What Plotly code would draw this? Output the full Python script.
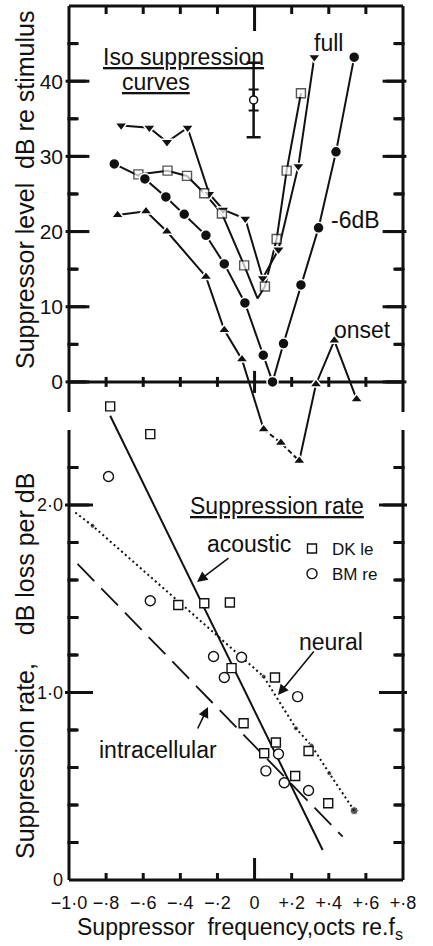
import plotly.graph_objects as go

# ---------------- data ----------------
# Top panel: iso-suppression curves; x = suppressor frequency (octaves re fs), y = dB re stimulus
full_x = [-0.719, -0.567, -0.472, -0.361, -0.244, -0.169, -0.050, 0.044, 0.129, 0.236, 0.322]
full_db = [34.1, 33.8, 31.9, 33.8, 25.0, 22.9, 21.7, 13.8, 17.6, 28.7, 43.2]

sq_x = [-0.626, -0.469, -0.364, -0.271, -0.176, -0.056, 0.016, 0.056, 0.119, 0.173, 0.250]
sq_db = [27.6, 28.1, 27.4, 25.1, 22.4, 15.5, 11.1, 12.7, 19.0, 28.1, 38.4]
sq_marked = [1, 1, 1, 1, 1, 1, 0, 1, 1, 1, 1]

m6_x = [-0.756, -0.591, -0.478, -0.379, -0.262, -0.163, -0.052, 0.047, 0.097, 0.156, 0.250, 0.345, 0.439, 0.537]
m6_db = [29.0, 27.0, 24.6, 22.3, 19.5, 15.7, 10.5, 3.55, 0.0, 5.1, 12.9, 20.5, 30.6, 43.2]

onset_x = [-0.738, -0.585, -0.472, -0.262, -0.163, -0.068, 0.049, 0.142, 0.241, 0.331, 0.430, 0.550]
onset_db = [22.2, 22.7, 20.0, 14.0, 6.9, 3.0, -6.3, -8.1, -10.5, -0.3, 5.5, -2.3]
onset_dashed = (6, 8)   # indices bounding the dashed stretch

err_x = [-0.005]
err_mean = [37.5]
err_outer = [4.95]
err_inner = [1.4]

# Bottom panel: suppression rate (dB loss per dB)
dk_x = [-0.778, -0.562, -0.411, -0.271, -0.133, -0.124, 0.110, -0.059, 0.115, 0.052, 0.291, 0.219, 0.397]
dk_rate = [2.526, 2.378, 1.467, 1.476, 1.480, 1.130, 1.080, 0.836, 0.733, 0.676, 0.688, 0.555, 0.409]

bm_x = [-0.787, -0.562, -0.221, -0.070, -0.163, 0.232, 0.129, 0.061, 0.160, 0.291]
bm_rate = [2.152, 1.489, 1.192, 1.188, 1.080, 0.978, 0.672, 0.582, 0.519, 0.477]

acoustic_x = [-0.778, 0.367]
acoustic_rate = [2.476, 0.160]

intra_x = [-0.954, 0.475]
intra_rate = [1.686, 0.231]

neural_x = [-0.966, -0.873, 0.049, 0.223, 0.307, 0.403, 0.537]
neural_rate = [1.960, 1.889, 1.085, 0.809, 0.717, 0.569, 0.370]
neural_dot = [0, 1, 1, 1, 1, 1, 2]

x_ticks = [-1.0, -0.8, -0.6, -0.4, -0.2, 0.0, 0.2, 0.4, 0.6, 0.8]
x_ticktext = ["\u22121\u00b70", "\u2212\u00b78", "\u2212\u00b76", "\u2212\u00b74", "\u2212\u00b72",
              "0", "+\u00b72", "+\u00b74", "+\u00b76", "+\u00b78"]
db_major = [0, 10, 20, 30, 40]
db_minor = [5, 15, 25, 35, 45]
rate_major = [0, 1.0, 2.0]
rate_major_text = ["0", "1\u00b70", "2\u00b70"]
rate_minor = [0.2, 0.4, 0.6, 0.8, 1.2, 1.4, 1.6, 1.8, 2.2]

# ---------------- geometry ----------------
W, H = 433, 946
L, R, T, B = 69, 30, 6, 66
PLOT_TOP, PLOT_BOT = T, H - B
PH = PLOT_BOT - PLOT_TOP
PW = W - L - R
TOP_PANEL_BOT = 412
BOT_PANEL_TOP = 430
DB_RANGE = [-4.0, 50.0]
RATE_RANGE = [0.0, 2.4]
XR = [-1.0, 0.8]

db_per_px = (DB_RANGE[1] - DB_RANGE[0]) / (TOP_PANEL_BOT - PLOT_TOP)
db_full = [DB_RANGE[0] - (PLOT_BOT - TOP_PANEL_BOT) * db_per_px, DB_RANGE[1]]
rate_full = [0.0, RATE_RANGE[1] * PH / (PLOT_BOT - BOT_PANEL_TOP)]
rate_per_px = rate_full[1] / PH
x_per_px = (XR[1] - XR[0]) / PW

INK = "#111111"
FONT = "Liberation Sans, Arial, sans-serif"
LW = 3


def px(xp):
    return (xp - L) / PW


def py(yp):
    return (PLOT_BOT - yp) / PH


fig = go.Figure()


# ---- y tick marks on both frame sides: horizontal line markers placed on each scale ----
def ytick_markers(values, yaxis, length_px):
    half = length_px / 2 * x_per_px
    xs = [XR[0] + half] * len(values) + [XR[1] - half] * len(values)
    ys = list(values) + list(values)
    fig.add_trace(go.Scatter(x=xs, y=ys, mode="markers", xaxis="x", yaxis=yaxis, cliponaxis=False,
                             marker=dict(symbol="line-ew", size=length_px, color=INK,
                                         line=dict(color=INK, width=LW)),
                             showlegend=False, hoverinfo="skip"))


ytick_markers(db_major, "y", 17)
ytick_markers(db_minor, "y", 8)
ytick_markers(rate_major[1:], "y2", 20)
ytick_markers(rate_minor, "y2", 8)


def top_line(xs, ys, dash="solid"):
    fig.add_trace(go.Scatter(x=xs, y=ys, mode="lines", xaxis="x", yaxis="y",
                             line=dict(color=INK, width=2, dash=dash), showlegend=False))


def top_markers(xs, ys, symbol, size, fill, sizes=None):
    fig.add_trace(go.Scatter(x=xs, y=ys, mode="markers", xaxis="x", yaxis="y",
                             marker=dict(symbol=symbol, size=sizes if sizes else size, color=fill,
                                         line=dict(color=INK if fill == "white" else "white",
                                                   width=1.4 if fill == "white" else 1.5)),
                             showlegend=False))


# top panel curves
top_line(full_x, full_db)
top_line(sq_x, sq_db)
top_line(m6_x, m6_db)
a, b = onset_dashed
top_line(onset_x[:a + 1], onset_db[:a + 1])
top_line(onset_x[a:b + 1], onset_db[a:b + 1], dash="5px,3px")
top_line(onset_x[b:], onset_db[b:])

top_markers(full_x, full_db, "triangle-down", 11, INK)
top_markers(sq_x, sq_db, "square", 9, "white", sizes=[9 * m for m in sq_marked])
top_markers(m6_x, m6_db, "circle", 11, INK)
top_markers(onset_x, onset_db, "triangle-up", 11, INK)

# error bar
fig.add_trace(go.Scatter(x=err_x, y=err_mean, mode="markers", xaxis="x", yaxis="y",
                         marker=dict(size=0.1, color=INK),
                         error_y=dict(type="data", array=err_outer, color=INK, thickness=2.5, width=7),
                         showlegend=False))
fig.add_trace(go.Scatter(x=err_x, y=err_mean, mode="markers", xaxis="x", yaxis="y",
                         marker=dict(symbol="circle", size=8, color="white", line=dict(color=INK, width=1.5)),
                         error_y=dict(type="data", array=err_inner, color=INK, thickness=2, width=5),
                         showlegend=False))

# bottom panel lines
fig.add_trace(go.Scatter(x=acoustic_x, y=acoustic_rate, mode="lines", xaxis="x", yaxis="y2",
                         line=dict(color=INK, width=2), showlegend=False))
fig.add_trace(go.Scatter(x=intra_x, y=intra_rate, mode="lines", xaxis="x", yaxis="y2",
                         line=dict(color=INK, width=1.8, dash="24px,10px"), showlegend=False))
fig.add_trace(go.Scatter(x=neural_x, y=neural_rate, mode="lines+markers", xaxis="x", yaxis="y2",
                         line=dict(color=INK, width=2, dash="2px,3px"),
                         marker=dict(size=[[0, 5, 8][k] for k in neural_dot], color=INK),
                         showlegend=False))

# bottom panel markers (also the legend entries)
fig.add_trace(go.Scatter(x=dk_x, y=dk_rate, mode="markers", xaxis="x", yaxis="y2", name="DK le",
                         marker=dict(symbol="square", size=9, color="white", line=dict(color=INK, width=1.4))))
fig.add_trace(go.Scatter(x=bm_x, y=bm_rate, mode="markers", xaxis="x", yaxis="y2", name="BM re",
                         marker=dict(symbol="circle", size=10, color="white", line=dict(color=INK, width=1.4))))

fig.update_layout(
    width=W, height=H, autosize=False,
    margin=dict(l=L, r=R, t=T, b=B),
    paper_bgcolor="white", plot_bgcolor="white",
    font=dict(family=FONT, color=INK),
    showlegend=True,
    legend=dict(x=px(292), y=py(531), xanchor="left", yanchor="top",
                bgcolor="rgba(0,0,0,0)", font=dict(size=17, family=FONT, color=INK),
                itemwidth=30, tracegroupgap=0),
    xaxis=dict(range=XR, anchor="y", side="bottom", showline=False, ticks="",
               tickmode="array", tickvals=x_ticks, ticktext=x_ticktext, ticklabelstandoff=10,
               tickfont=dict(size=18, family=FONT, color=INK), showgrid=False, zeroline=False),
    yaxis=dict(range=db_full, domain=[0, 1], anchor="x", side="left", showline=False, ticks="",
               tickmode="array", tickvals=db_major, ticktext=[str(v) for v in db_major],
               ticklabelstandoff=5,
               tickfont=dict(size=21, family=FONT, color=INK), showgrid=False, zeroline=False),
    yaxis2=dict(range=rate_full, overlaying="y", anchor="x", side="left", showline=False, ticks="",
                tickmode="array", tickvals=rate_major, ticktext=rate_major_text, ticklabelstandoff=5,
                tickfont=dict(size=18, family=FONT, color=INK), showgrid=False, zeroline=False),
)

line_style = dict(color=INK, width=LW)

# ---- frame (edges drawn against the axes' own scales) ----
for xs in (0, 1):
    for y0, y1 in ((py(TOP_PANEL_BOT), 1), (0, py(BOT_PANEL_TOP))):
        fig.add_shape(type="line", xref="paper", yref="paper", x0=xs, x1=xs, y0=y0, y1=y1, line=line_style)
for ys in (0, 1):
    fig.add_shape(type="line", xref="paper", yref="paper", x0=0, x1=1, y0=ys, y1=ys, line=line_style)
# zero line of the upper panel (under the data)
fig.add_shape(type="line", xref="paper", yref="y", x0=0, x1=1, y0=0, y1=0, line=line_style, layer="below")


def xtick_paper(v, y_edge, length_px):
    fig.add_shape(type="line", xref="x", x0=v, x1=v, yref="paper",
                  y0=y_edge, y1=y_edge + length_px / PH, line=line_style)


def xtick_zero(v, half_px):
    fig.add_shape(type="line", xref="x", x0=v, x1=v, yref="y",
                  y0=-half_px * db_per_px, y1=half_px * db_per_px, line=line_style, layer="below")


for v in x_ticks[1:-1]:
    long_tick = (v == 0)
    xtick_paper(v, 0, 22 if long_tick else 7)          # bottom edge, pointing up
    xtick_paper(v, 1, -25 if long_tick else -8)        # top edge, pointing down
    xtick_zero(v, 11 if long_tick else 5)              # crossing ticks on the zero line


# y ticks also as thin filled bars (same place as the line markers)
def ytick_bar(v, yref, unit_per_px, side, length_px):
    x_end = length_px / PW if side == 0 else 1 - length_px / PW
    fig.add_shape(type="rect", xref="paper", x0=min(side, x_end), x1=max(side, x_end),
                  yref=yref, y0=v - 1.5 * unit_per_px, y1=v + 1.5 * unit_per_px,
                  fillcolor=INK, line=dict(width=0))


for side in (0, 1):
    for v in db_major:
        ytick_bar(v, "y", db_per_px, side, 17)
    for v in db_minor:
        ytick_bar(v, "y", db_per_px, side, 8)
    for v in rate_major[1:]:
        ytick_bar(v, "y2", rate_per_px, side, 20)
    for v in rate_minor:
        ytick_bar(v, "y2", rate_per_px, side, 8)


def label(text, xp, yp, size=23, angle=0):
    fig.add_annotation(text=text, x=px(xp), y=py(yp), xref="paper", yref="paper", showarrow=False,
                       xanchor="center", yanchor="middle", textangle=angle,
                       font=dict(size=size, family=FONT, color=INK))


def arrow(head_x, head_y, tail_x, tail_y):
    fig.add_annotation(text="", x=px(head_x), y=py(head_y), xref="paper", yref="paper",
                       ax=tail_x - head_x, ay=tail_y - head_y, axref="pixel", ayref="pixel",
                       showarrow=True, arrowhead=2, arrowsize=1.3, arrowwidth=1.6, arrowcolor=INK)


label("<u>Iso suppression</u>", 183, 57)
label("<u>curves</u>", 156, 82)
label("full", 328, 43)
label("-6dB", 355, 220)
label("onset", 362, 330)
label("<u>Suppression rate</u>", 277, 506)
label("acoustic", 249, 544)
label("neural", 331, 642)
label("intracellular", 158, 750)
arrow(197, 582, 230, 557)
arrow(278, 695, 315, 650)
arrow(208, 707, 197, 730)

label("Suppressor level  dB re stimulus", 25, 190, size=25, angle=-90)
label("Suppression rate,    dB loss per dB", 25, 666, size=25, angle=-90)
label("Suppressor  frequency,octs re.f<sub>s</sub>", 240, 928, size=23)

fig.write_html("out.html")
